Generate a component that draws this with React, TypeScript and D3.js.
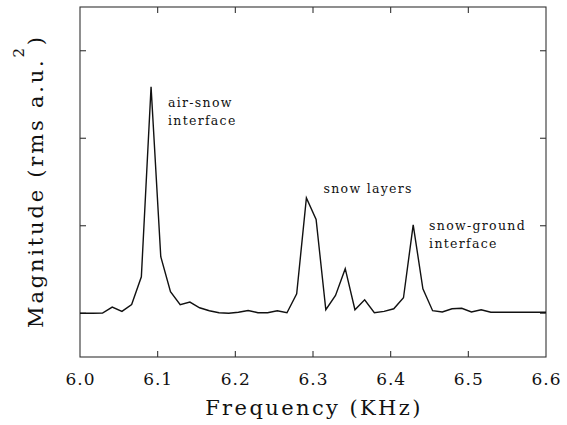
import React from "react";
import * as d3 from "d3";

const freqs = [
  6.0, 6.004, 6.0165, 6.029, 6.0415, 6.054, 6.0665, 6.079, 6.0915, 6.104,
  6.1165, 6.129, 6.1415, 6.154, 6.1665, 6.179, 6.1915, 6.204, 6.2165, 6.229,
  6.2415, 6.254, 6.2665, 6.279, 6.2915, 6.304, 6.3165, 6.329, 6.3415, 6.354,
  6.3665, 6.379, 6.3915, 6.404, 6.4165, 6.429, 6.4415, 6.454, 6.4665, 6.479,
  6.4915, 6.504, 6.5165, 6.529, 6.5415, 6.554, 6.5665, 6.579, 6.5915, 6.6,
];
const mags = [
  0.0, 0.0, 0.0, 0.002, 0.071, 0.021, 0.1, 0.417, 2.589, 0.646,
  0.246, 0.097, 0.128, 0.063, 0.029, 0.006, 0.0, 0.011, 0.032, 0.006,
  0.006, 0.029, 0.006, 0.223, 1.317, 1.072, 0.04, 0.203, 0.509, 0.04,
  0.154, 0.006, 0.021, 0.051, 0.177, 1.011, 0.28, 0.029, 0.014, 0.051,
  0.057, 0.014, 0.04, 0.011, 0.011, 0.011, 0.011, 0.011, 0.011, 0.011,
];
const xTicks = [6.0, 6.1, 6.2, 6.3, 6.4, 6.5, 6.6];
const xTickLabels = ["6.0", "6.1", "6.2", "6.3", "6.4", "6.5", "6.6"];
const yTicks = [0, 1, 2, 3];
const annotations = [
  { f: 6.1133, v: 2.357, lines: ["air-snow", "interface"] },
  { f: 6.3135, v: 1.38, lines: ["snow layers"] },
  { f: 6.4495, v: 0.95, lines: ["snow-ground", "interface"] },
];

const W = 567;
const H = 425;
const L = 80, R = 546, T = 7, B = 357;

export default function App() {
  const x = d3.scaleLinear().domain([6.0, 6.6]).range([L, R]);
  const y = d3.scaleLinear().domain([-0.5, 3.5]).range([B, T]);
  const pts = freqs.map((f, i) => [f, mags[i]] as [number, number]);
  const line = d3
    .line<[number, number]>()
    .x((d) => x(d[0]))
    .y((d) => y(d[1]));
  const serif = "'DejaVu Serif', serif";
  const tick = 6;
  return (
    <svg
      width={W}
      height={H}
      style={{ position: "absolute", left: 0, top: 0, background: "#fff" }}
    >
      <defs>
        <clipPath id="plot">
          <rect x={L} y={T} width={R - L} height={B - T} />
        </clipPath>
      </defs>
      <rect x={L} y={T} width={R - L} height={B - T} fill="none" stroke="#333" strokeWidth={1.1} />
      {xTicks.slice(1, -1).map((t) => (
        <g key={"xt" + t}>
          <line x1={x(t)} x2={x(t)} y1={B} y2={B - tick} stroke="#333" strokeWidth={1.1} />
          <line x1={x(t)} x2={x(t)} y1={T} y2={T + tick} stroke="#333" strokeWidth={1.1} />
        </g>
      ))}
      {yTicks.map((t) => (
        <g key={"yt" + t}>
          <line x1={L} x2={L + tick} y1={y(t)} y2={y(t)} stroke="#333" strokeWidth={1.1} />
          <line x1={R} x2={R - tick} y1={y(t)} y2={y(t)} stroke="#333" strokeWidth={1.1} />
        </g>
      ))}
      <path
        d={line(pts) || ""}
        fill="none"
        stroke="#111"
        strokeWidth={1.4}
        strokeLinejoin="miter"
        clipPath="url(#plot)"
      />
      {xTicks.map((t, i) => (
        <text
          key={"xl" + t}
          x={x(t) + 0.5}
          y={385}
          textAnchor="middle"
          fontFamily={serif}
          fontSize={17}
          letterSpacing={1}
          fill="#111"
        >
          {xTickLabels[i]}
        </text>
      ))}
      <text
        x={(L + R) / 2 + 1}
        y={415}
        textAnchor="middle"
        fontFamily={serif}
        fontSize={21}
        letterSpacing={2.4}
        fill="#111"
      >
        Frequency (KHz)
      </text>
      <text
        transform={`translate(43,${181}) rotate(-90)`}
        textAnchor="middle"
        fontFamily={serif}
        fontSize={21}
        letterSpacing={2.8}
        fill="#111"
      >
        Magnitude (rms a.u.
        <tspan dy={-19} fontSize={15}>2</tspan>
        <tspan dy={19}>)</tspan>
      </text>
      {annotations.map((a, i) =>
        a.lines.map((s, j) => (
          <text
            key={"an" + i + "-" + j}
            x={x(a.f)}
            y={y(a.v) + j * 18}
            fontFamily={serif}
            fontSize={12.5}
            letterSpacing={1.3}
            fill="#111"
          >
            {s}
          </text>
        ))
      )}
    </svg>
  );
}
